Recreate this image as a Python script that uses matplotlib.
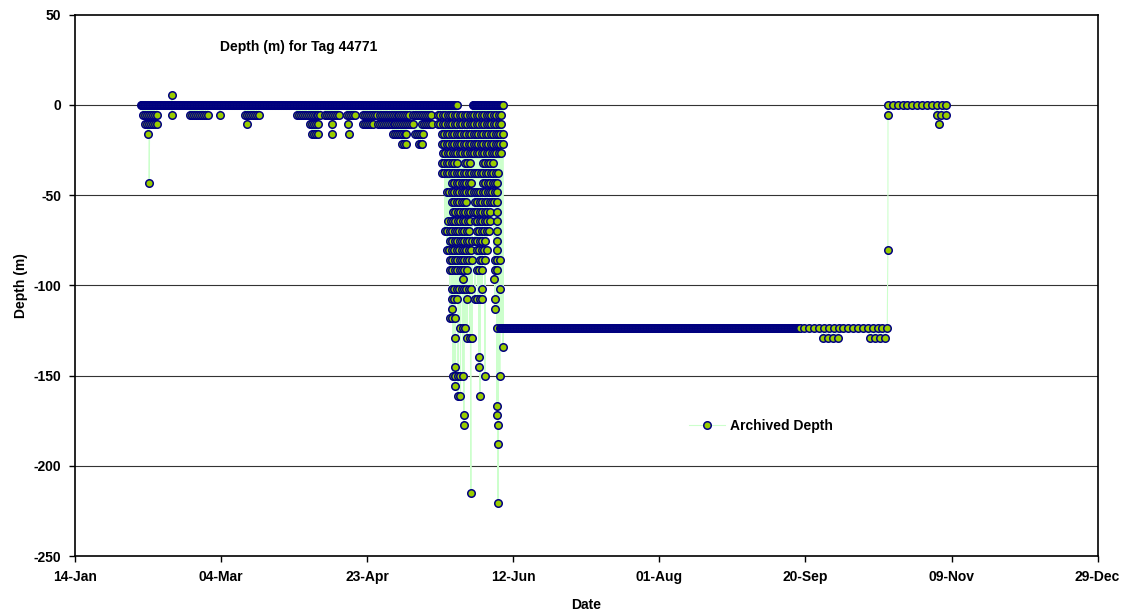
import numpy as np
import matplotlib.pyplot as plt
import matplotlib.dates as mdates

plt.rcParams['font.family'] = ['Liberation Sans', 'DejaVu Sans']
plt.rcParams['font.weight'] = 'bold'
plt.rcParams['font.size'] = 10
plt.rcParams['axes.unicode_minus'] = False

# time axis: days after 14-Jan-2004, depth in tag steps below surface
START = np.datetime64('2004-01-14')
STEP = 5.375        # depth resolution of the tag (m)

# archived records per day in each part of the record
RATE_SURFACE = 4.0
RATE_SHALLOW = 1.5
RATE_DIVE = 1.2
RATE_LATE = 0.6

# stretches where the tag was logged at one depth step: (first day, last day, step)
surface_runs = [
    (22.6, 130.7, 0),
    (136.2, 146.5, 0),
    (145.4, 248.0, 23),   # parked at depth
]

shallow_runs = [
    (23.3, 28.4, 1), (39.4, 45.5, 1), (58.2, 63.3, 1), (76.0, 84.5, 1),
    (85.6, 90.7, 1), (93.1, 95.8, 1), (98.6, 103.7, 1), (104.4, 114.6, 1),
    (115.7, 122.2, 1),
    (24.0, 28.4, 2), (80.4, 83.2, 2), (98.6, 102.0, 2), (103.7, 115.7, 2),
    (118.8, 122.2, 2),
    (81.1, 83.2, 3), (108.8, 113.6, 3), (116.4, 119.1, 3),
    (112.0, 113.6, 4), (117.6, 119.1, 4),
]

dive_runs = [
    (124.2, 146.5, 1), (124.2, 146.5, 2), (125.6, 146.5, 3), (125.6, 146.5, 4),
    (125.9, 146.5, 5),
    (125.6, 130.7, 6), (133.5, 135.2, 6), (139.6, 143.1, 6),
    (125.6, 145.4, 7),
    (129.0, 136.2, 8), (139.6, 144.8, 8),
    (127.3, 137.6, 9), (137.9, 144.8, 9),
    (129.0, 134.2, 10), (136.9, 144.8, 10),
    (129.4, 136.2, 11), (136.9, 142.0, 11),
    (127.7, 135.9, 12), (136.9, 142.7, 12),
    (126.6, 135.2, 13), (137.6, 142.0, 13),
    (128.3, 135.9, 14), (136.9, 141.0, 14),
    (127.3, 135.9, 15), (137.6, 141.3, 15),
    (128.3, 135.9, 16), (138.6, 140.3, 16), (143.7, 145.4, 16),
    (128.3, 134.2, 17), (137.6, 139.6, 17), (143.7, 144.8, 17),
    (129.0, 135.9, 19),
    (129.0, 130.7, 20), (136.9, 139.6, 20),
    (143.7, 144.4, 21),
    (128.3, 130.7, 22),
    (131.8, 134.2, 23),
    (134.2, 135.9, 24),
    (129.4, 132.8, 28),
    (131.1, 132.4, 30),
]

late_runs = [
    (248.0, 278.2, 23),
    (256.0, 261.1, 24), (272.1, 278.2, 24),
    (278.26, 298.3, 0),
    (294.9, 298.3, 1),
]

# single archived records: (day, step)
spikes = [
    (25.0, 3), (25.4, 8), (33.1, -1), (33.2, 1), (49.6, 1), (58.9, 2),
    (88.0, 2), (88.0, 3), (93.4, 2), (93.8, 3),
    (144.4, 11), (144.4, 12), (144.4, 13), (144.4, 14), (144.4, 15),
    (132.8, 18), (143.4, 18), (139.3, 19), (145.4, 19), (134.2, 20),
    (143.7, 20), (129.0, 21), (144.4, 23), (130.0, 24), (146.5, 25),
    (138.3, 26), (130.0, 27), (138.3, 27), (140.3, 28), (145.4, 28),
    (130.0, 29), (138.6, 30), (144.4, 31), (133.1, 32), (144.4, 32),
    (133.1, 33), (144.8, 33), (144.8, 35), (135.5, 40), (144.8, 41),
    (278.22, 15), (278.24, 1), (295.8, 2),
]

days, steps = [], []
for rate, table in ((RATE_SURFACE, surface_runs), (RATE_SHALLOW, shallow_runs),
                    (RATE_DIVE, dive_runs), (RATE_LATE, late_runs)):
    for a, b, n in table:
        t = np.arange(a, b + 1e-6, 1.0 / rate)
        days.extend(t)
        steps.extend([n] * len(t))
for d, n in spikes:
    days.append(d)
    steps.append(n)

days = np.array(days)
depth = -np.array(steps) * STEP
order = np.argsort(days, kind='stable')
x = mdates.date2num(START) + days[order]
y = depth[order]

fig = plt.figure(figsize=(11.29, 6.15), dpi=100)
ax = fig.add_axes([0.0664, 0.0959, 0.9058, 0.8802])

ax.plot(x, y, '-o', color='#ccffcc', lw=0.8, ms=5.4,
        mfc='#99cc00', mec='#000080', mew=1.1, label='Archived Depth')

ticks = mdates.date2num(START) + np.arange(0, 351, 50)
ax.set_xticks(ticks)
ax.xaxis.set_major_formatter(mdates.DateFormatter('%d-%b'))
ax.set_xlim(ticks[0], ticks[-1])
ax.set_ylim(-250, 50)
ax.set_yticks(np.arange(-250, 51, 50))

for v in range(-200, 1, 50):
    ax.axhline(v, color='#333333', lw=0.8, zorder=0)

for s in ax.spines.values():
    s.set_linewidth(1.2)
ax.tick_params(direction='out', length=4, width=1, pad=6, labelsize=10)

ax.set_xlabel('Date', fontsize=10, fontweight='bold', labelpad=10)
ax.set_ylabel('Depth (m)', fontsize=10, fontweight='bold', labelpad=4)
ax.text(0.142, 0.940, 'Depth (m) for Tag 44771', transform=ax.transAxes,
        ha='left', va='center', fontsize=10, fontweight='bold')

ax.legend(loc='center left', bbox_to_anchor=(0.600, 0.240), frameon=False,
          borderpad=0, borderaxespad=0, handlelength=2.6, handletextpad=0.4,
          fontsize=10)

fig.savefig('out.png', dpi=100)
